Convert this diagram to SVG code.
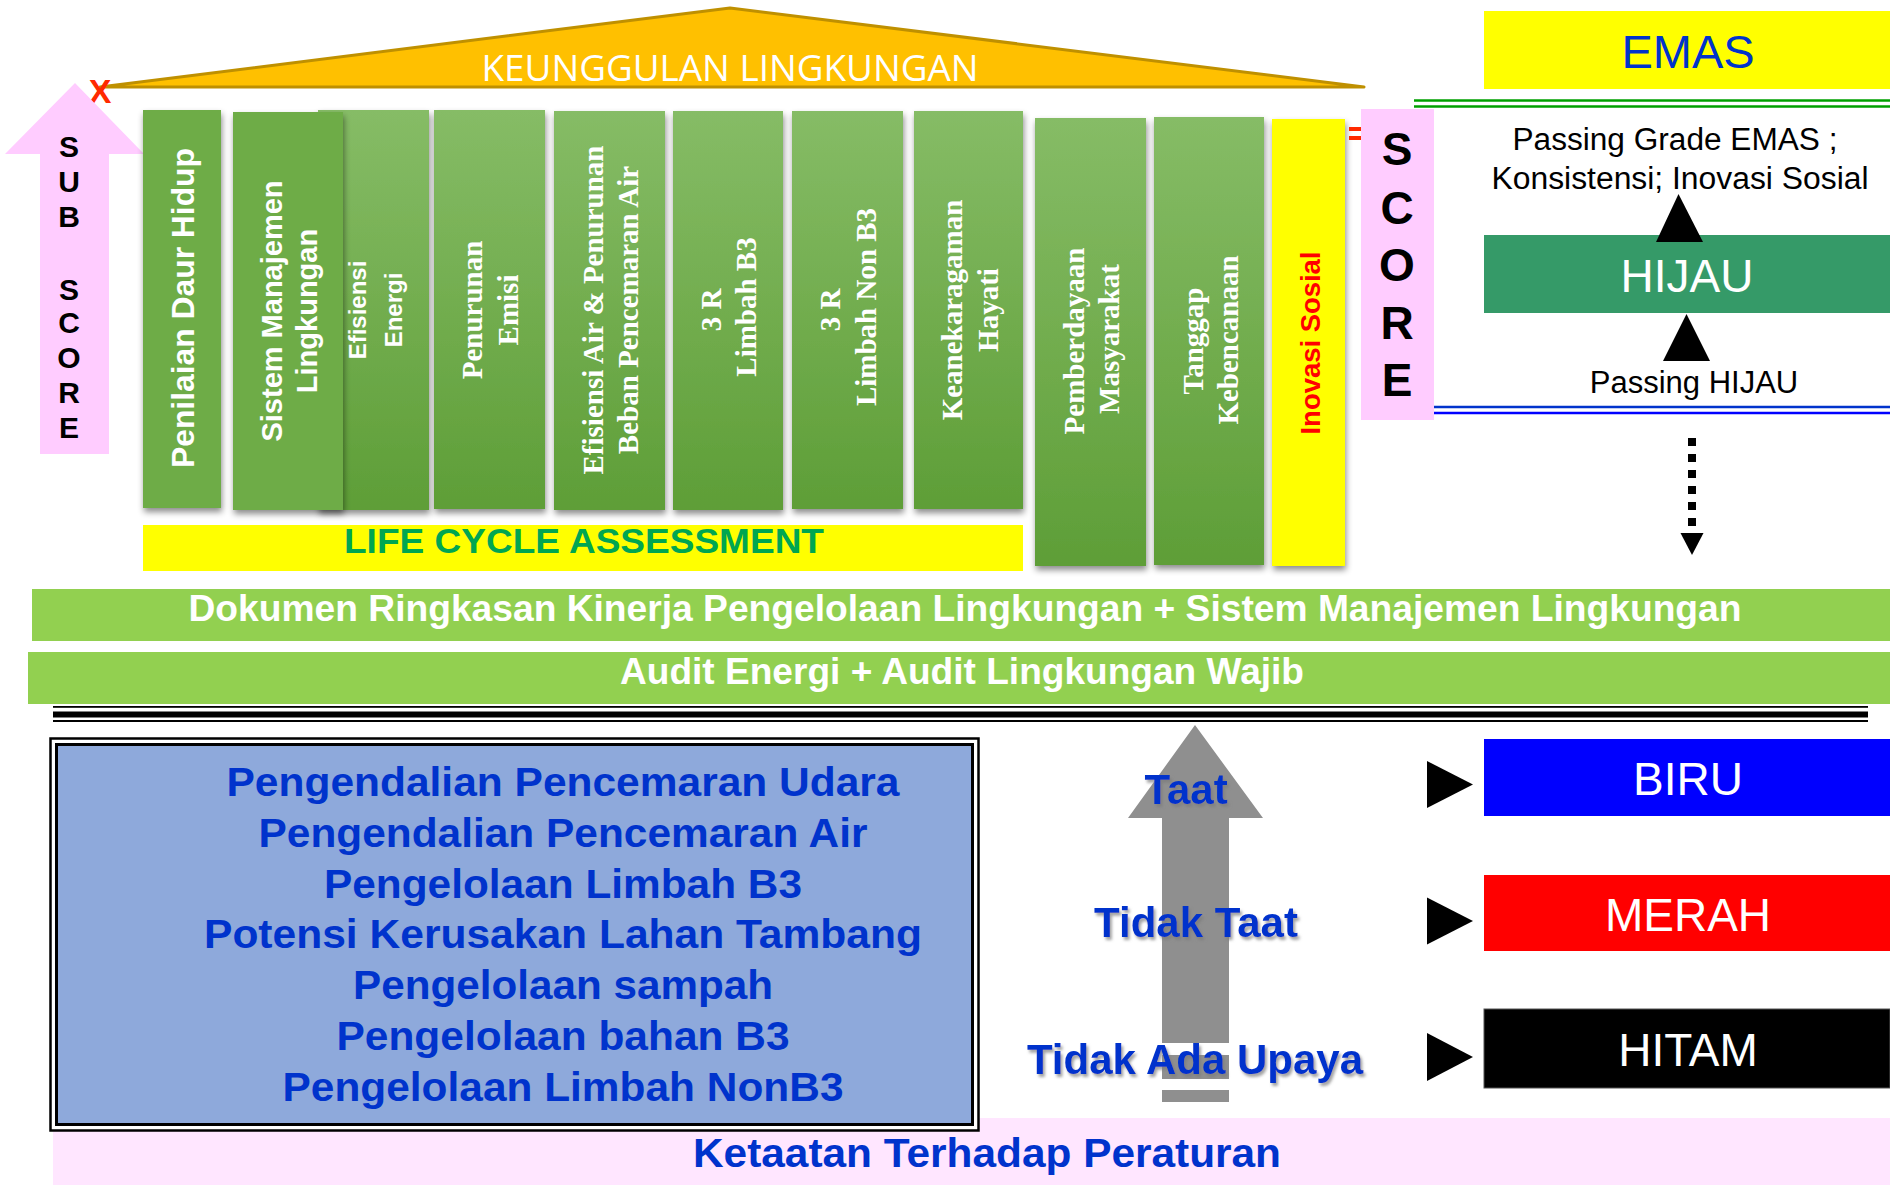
<svg xmlns="http://www.w3.org/2000/svg" width="1890" height="1185" viewBox="0 0 1890 1185">
<defs>
<linearGradient id="gcol" x1="0" y1="0" x2="0" y2="1">
<stop offset="0" stop-color="#86BC66"/>
<stop offset="1" stop-color="#5E9E37"/>
</linearGradient>
<filter id="sh" x="-20%" y="-10%" width="140%" height="125%">
<feDropShadow dx="1" dy="4" stdDeviation="3" flood-color="#000" flood-opacity="0.45"/>
</filter>
<filter id="tsh" x="-10%" y="-20%" width="120%" height="150%">
<feDropShadow dx="2" dy="3" stdDeviation="1.5" flood-color="#7a7a7a" flood-opacity="0.7"/>
</filter>
<style>
.col{fill:url(#gcol);filter:url(#sh)}
.colf{fill:#6EAC47;filter:url(#sh)}
.vs{font-family:"Liberation Sans",Arial,sans-serif;font-weight:bold;fill:#fff;text-anchor:middle}
.vr{font-family:"Liberation Serif","Times New Roman",serif;font-weight:bold;font-size:29px;fill:#fff;text-anchor:middle}
.sb{font-family:"Liberation Sans",Arial,sans-serif;font-weight:bold;text-anchor:middle}
.sr{font-family:"Liberation Sans",Arial,sans-serif;text-anchor:middle}
.blue{fill:#0033CC}
.lvl{font-family:"Liberation Sans",Arial,sans-serif;font-size:46px;fill:#fff;text-anchor:middle}
.tri{fill:#000}
</style>
</defs>
<rect width="1890" height="1185" fill="#fff"/>

<g id="roof">
<polygon points="100,87 730,8 1364,87" fill="#FFC000" stroke="#BF9000" stroke-width="3" stroke-linejoin="round"/>
<text x="730" y="81" font-family="'Open Sans',sans-serif" font-size="36" fill="#fff" text-anchor="middle" textLength="497" lengthAdjust="spacingAndGlyphs">KEUNGGULAN LINGKUNGAN</text>
</g>

<g id="x-mark">
<text x="100" y="103" class="sb" font-size="34" fill="#FF2A00">X</text>
</g>

<g id="sub-score">
<polygon points="75,83 144,154 109,154 109,454 40,454 40,154 5,154" fill="#FFCCFF"/>
<g class="sb" font-size="30" fill="#000">
<text x="69" y="157">S</text>
<text x="69" y="192">U</text>
<text x="69" y="227">B</text>
<text x="69" y="300">S</text>
<text x="69" y="333">C</text>
<text x="69" y="368">O</text>
<text x="69" y="403">R</text>
<text x="69" y="438">E</text>
</g>
</g>

<g id="col-efisiensi-energi">
<rect class="col" x="318" y="110" width="111" height="400"/>
<text class="vs" font-size="24" transform="translate(366,310) rotate(-90)">Efisiensi</text>
<text class="vs" font-size="24" transform="translate(402,310) rotate(-90)">Energi</text>
</g>
<g id="col-penilaian">
<rect class="colf" x="143" y="110" width="78" height="398"/>
<text class="vs" font-size="31" transform="translate(194,308) rotate(-90)" textLength="320" lengthAdjust="spacingAndGlyphs">Penilaian Daur Hidup</text>
</g>
<g id="col-sml">
<rect class="colf" x="233" y="112" width="110" height="398"/>
<text class="vs" font-size="29" transform="translate(282,311) rotate(-90)">Sistem Manajemen</text>
<text class="vs" font-size="29" transform="translate(317,311) rotate(-90)">Lingkungan</text>
</g>
<g id="col-emisi">
<rect class="col" x="434" y="110" width="111" height="399"/>
<text class="vr" transform="translate(482,310) rotate(-90)">Penurunan</text>
<text class="vr" transform="translate(518,310) rotate(-90)">Emisi</text>
</g>
<g id="col-air">
<rect class="col" x="554" y="111" width="111" height="399"/>
<text class="vr" transform="translate(603,310) rotate(-90)">Efisiensi Air &amp; Penurunan</text>
<text class="vr" transform="translate(638,310) rotate(-90)">Beban Pencemaran Air</text>
</g>
<g id="col-3r-b3">
<rect class="col" x="673" y="111" width="110" height="399"/>
<text class="vr" transform="translate(721,310) rotate(-90)">3 R</text>
<text class="vr" transform="translate(756,307) rotate(-90)">Limbah B3</text>
</g>
<g id="col-3r-nonb3">
<rect class="col" x="792" y="111" width="111" height="398"/>
<text class="vr" transform="translate(840,310) rotate(-90)">3 R</text>
<text class="vr" transform="translate(876,307) rotate(-90)">Limbah Non B3</text>
</g>
<g id="col-kehati">
<rect class="col" x="914" y="111" width="109" height="398"/>
<text class="vr" transform="translate(962,310) rotate(-90)">Keanekaragaman</text>
<text class="vr" transform="translate(998,310) rotate(-90)">Hayati</text>
</g>
<g id="col-pemberdayaan">
<rect class="col" x="1035" y="118" width="111" height="448"/>
<text class="vr" transform="translate(1084,341) rotate(-90)">Pemberdayaan</text>
<text class="vr" transform="translate(1119,339) rotate(-90)">Masyarakat</text>
</g>
<g id="col-bencana">
<rect class="col" x="1154" y="117" width="110" height="448"/>
<text class="vr" transform="translate(1203,341) rotate(-90)">Tanggap</text>
<text class="vr" transform="translate(1238,340) rotate(-90)">Kebencanaan</text>
</g>
<g id="col-inovasi">
<rect x="1272" y="119" width="73" height="447" fill="#FFFF00" filter="url(#sh)"/>
<text class="vs" font-size="27" style="fill:#FF0000" transform="translate(1320,343) rotate(-90)" textLength="183" lengthAdjust="spacingAndGlyphs">Inovasi Sosial</text>
</g>

<g id="equals">
<rect x="1349" y="127" width="18" height="4" fill="#FF2A00"/>
<rect x="1349" y="136" width="18" height="4" fill="#FF2A00"/>
</g>

<g id="score">
<rect x="1361" y="109" width="73" height="311" fill="#FFCCFF"/>
<g class="sb" font-size="46" fill="#000">
<text x="1397" y="165">S</text>
<text x="1397" y="224">C</text>
<text x="1397" y="281">O</text>
<text x="1397" y="339">R</text>
<text x="1397" y="396">E</text>
</g>
</g>

<g id="lca">
<rect x="143" y="525" width="880" height="46" fill="#FFFF00"/>
<text x="584" y="553" class="sb" font-size="35" fill="#00A651" textLength="480" lengthAdjust="spacingAndGlyphs">LIFE CYCLE ASSESSMENT</text>
</g>

<g id="emas">
<rect x="1484" y="11" width="406" height="78" fill="#FFFF00"/>
<text x="1688" y="68" class="sr" font-size="47" fill="#0033CC">EMAS</text>
</g>
<g id="emas-line">
<line x1="1414" y1="100.5" x2="1890" y2="100.5" stroke="#00A000" stroke-width="2.5"/>
<line x1="1414" y1="106.5" x2="1890" y2="106.5" stroke="#00A000" stroke-width="2.5"/>
</g>
<g id="passing-emas">
<text x="1675" y="150" class="sr" font-size="31" fill="#000" textLength="325" lengthAdjust="spacingAndGlyphs">Passing Grade EMAS ;</text>
<text x="1680" y="189" class="sr" font-size="31" fill="#000" textLength="377" lengthAdjust="spacingAndGlyphs">Konsistensi; Inovasi Sosial</text>
</g>
<g id="hijau">
<rect x="1484" y="235" width="406" height="78" fill="#359A68"/>
<text x="1687" y="292" class="lvl">HIJAU</text>
</g>
<g id="passing-hijau">
<text x="1694" y="393" class="sr" font-size="31" fill="#000">Passing HIJAU</text>
</g>
<g id="hijau-line">
<line x1="1434" y1="407" x2="1890" y2="407" stroke="#0033CC" stroke-width="2.5"/>
<line x1="1434" y1="413" x2="1890" y2="413" stroke="#0000FF" stroke-width="2.5"/>
</g>

<g id="dokumen">
<rect x="32" y="589" width="1858" height="52" fill="#92D050"/>
<text x="965" y="621" class="sb" font-size="36" fill="#fff" textLength="1553" lengthAdjust="spacingAndGlyphs">Dokumen Ringkasan Kinerja Pengelolaan Lingkungan + Sistem Manajemen Lingkungan</text>
</g>
<g id="audit">
<rect x="28" y="652" width="1862" height="52" fill="#92D050"/>
<text x="962" y="684" class="sb" font-size="36" fill="#fff" textLength="684" lengthAdjust="spacingAndGlyphs">Audit Energi + Audit Lingkungan Wajib</text>
</g>
<g id="separator">
<rect x="53" y="706" width="1815" height="1.8" fill="#000"/>
<rect x="53" y="711.5" width="1815" height="6" fill="#000"/>
<rect x="53" y="720" width="1815" height="2" fill="#000"/>
</g>

<g id="ketaatan">
<rect x="53" y="1118" width="1837" height="67" fill="#FFE6FF"/>
<text x="987" y="1167" class="sb blue" font-size="40" textLength="588" lengthAdjust="spacingAndGlyphs">Ketaatan Terhadap Peraturan</text>
</g>

<g id="proper-box">
<rect x="50.5" y="738.5" width="928" height="392" fill="#fff" stroke="#000" stroke-width="2.5"/>
<rect x="56.5" y="744.5" width="916" height="380" fill="#8EA9DB" stroke="#000" stroke-width="3"/>
<g class="sb blue" font-size="41">
<text x="563" y="796" textLength="673" lengthAdjust="spacingAndGlyphs">Pengendalian Pencemaran Udara</text>
<text x="563" y="847" textLength="609" lengthAdjust="spacingAndGlyphs">Pengendalian Pencemaran Air</text>
<text x="563" y="898" textLength="478" lengthAdjust="spacingAndGlyphs">Pengelolaan Limbah B3</text>
<text x="563" y="948" textLength="718" lengthAdjust="spacingAndGlyphs">Potensi Kerusakan Lahan Tambang</text>
<text x="563" y="999" textLength="420" lengthAdjust="spacingAndGlyphs">Pengelolaan sampah</text>
<text x="563" y="1050" textLength="453" lengthAdjust="spacingAndGlyphs">Pengelolaan bahan B3</text>
<text x="563" y="1101" textLength="561" lengthAdjust="spacingAndGlyphs">Pengelolaan Limbah NonB3</text>
</g>
</g>

<g id="biru">
<rect x="1484" y="739" width="406" height="77" fill="#0000FF"/>
<text x="1688" y="795" class="lvl">BIRU</text>
</g>
<g id="merah">
<rect x="1484" y="875" width="406" height="76" fill="#FF0000"/>
<text x="1688" y="931" class="lvl">MERAH</text>
</g>
<g id="hitam">
<rect x="1484" y="1009" width="406" height="79" fill="#000" stroke="#555" stroke-width="1"/>
<text x="1688" y="1066" class="lvl">HITAM</text>
</g>

<g id="connectors">
<polygon class="tri" points="1678.5,194 1703,242 1656,242"/>
<polygon class="tri" points="1686.5,314 1710,361 1663,361"/>
<line x1="1692" y1="438" x2="1692" y2="526" stroke="#000" stroke-width="8" stroke-dasharray="8 8"/>
<polygon class="tri" points="1680.5,533 1703.5,533 1692,555"/>
<polygon points="1195,725 1263,818 1229,818 1229,1043 1162,1043 1162,818 1128,818" fill="#8F8F8F"/>
<rect x="1162" y="1055" width="67" height="24" fill="#8F8F8F"/>
<rect x="1162" y="1090" width="67" height="12" fill="#8F8F8F"/>
<polygon class="tri" points="1427,761 1473,784.5 1427,808"/>
<polygon class="tri" points="1427,897.5 1473,921 1427,944.5"/>
<polygon class="tri" points="1427,1033 1473,1057 1427,1081"/>
</g>

<g id="compliance-labels" class="sb blue" font-size="42" filter="url(#tsh)">
<text x="1186" y="804">Taat</text>
<text x="1196" y="937">Tidak Taat</text>
<text x="1195" y="1074">Tidak Ada Upaya</text>
</g>
</svg>
